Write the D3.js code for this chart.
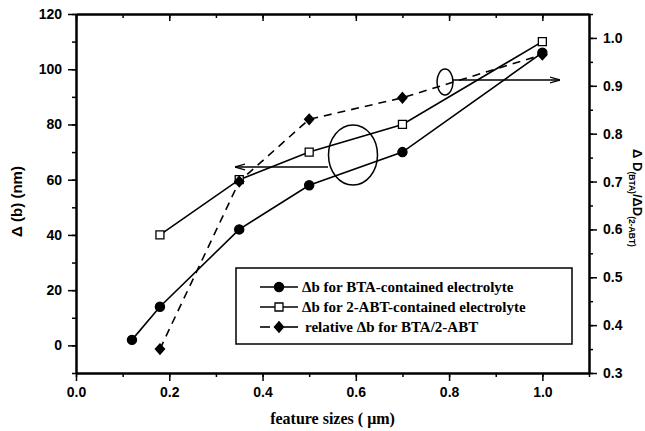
<!DOCTYPE html>
<html><head><meta charset="utf-8">
<script src="https://cdn.jsdelivr.net/npm/d3@7"></script>
<style>body{margin:0;background:#fff}</style>
</head><body>
<svg id="c" width="645" height="431"></svg>
<script>
const btaX = [0.12, 0.18, 0.35, 0.5, 0.7, 1.0];
const btaY = [2, 14, 42, 58, 70, 106];
const abtX = [0.18, 0.35, 0.5, 0.7, 1.0];
const abtY = [40, 60, 70, 80, 110];
const ratioX = [0.18, 0.35, 0.5, 0.7, 1.0];
const ratioY = [0.35, 0.70, 0.83, 0.875, 0.965];
const xTicks = [0, 0.2, 0.4, 0.6, 0.8, 1.0];
const yLTicks = [0, 20, 40, 60, 80, 100, 120];
const yRTicks = [0.3, 0.4, 0.5, 0.6, 0.7, 0.8, 0.9, 1.0];
const legendLabels = ["\u0394b for BTA-contained electrolyte", "\u0394b for 2-ABT-contained electrolyte", "relative \u0394b for BTA/2-ABT"];

const L = 76, R = 589, T = 14, B = 373;
const x = d3.scaleLinear().domain([0, 1.1]).range([L, R]);
const yL = d3.scaleLinear().domain([-10, 120]).range([B, T]);
const yR = d3.scaleLinear().domain([0.3, 1.05]).range([B, T]);
const svg = d3.select("#c");
const tickFont = "bold 14px Arial, 'Liberation Sans', sans-serif";

function styleAxis(g) {
  g.selectAll("path.domain").attr("stroke", "#000").attr("stroke-width", 2);
  g.selectAll("line").attr("stroke", "#000").attr("stroke-width", 1.5);
  g.selectAll("text").attr("fill", "#000").style("font", tickFont);
}
const xMinor = d3.range(0, 1.101, 0.1);
const yLMinor = d3.range(-10, 120.1, 10);
const yRMinor = d3.range(0.3, 1.051, 0.05);

svg.append("g").attr("transform", `translate(0,${B})`)
  .call(d3.axisBottom(x).tickValues(xMinor).tickSize(4).tickFormat("").tickSizeOuter(0)).call(styleAxis);
svg.append("g").attr("transform", `translate(0,${B})`)
  .call(d3.axisBottom(x).tickValues(xTicks).tickSize(8).tickPadding(6).tickFormat(d3.format(".1f")).tickSizeOuter(0)).call(styleAxis);
svg.append("g").attr("transform", `translate(0,${T})`)
  .call(d3.axisBottom(x).tickValues(xMinor).tickSize(4).tickFormat("").tickSizeOuter(0)).call(styleAxis);
svg.append("g").attr("transform", `translate(0,${T})`)
  .call(d3.axisBottom(x).tickValues(xTicks).tickSize(7).tickFormat("").tickSizeOuter(0)).call(styleAxis);
svg.append("g").attr("transform", `translate(${L},0)`)
  .call(d3.axisLeft(yL).tickValues(yLMinor).tickSize(4).tickFormat("").tickSizeOuter(0)).call(styleAxis);
svg.append("g").attr("transform", `translate(${L},0)`)
  .call(d3.axisLeft(yL).tickValues(yLTicks).tickSize(8).tickPadding(6).tickFormat(d3.format("d")).tickSizeOuter(0)).call(styleAxis);
svg.append("g").attr("transform", `translate(${R},0)`)
  .call(d3.axisRight(yR).tickValues(yRMinor).tickSize(4).tickFormat("").tickSizeOuter(0)).call(styleAxis);
svg.append("g").attr("transform", `translate(${R},0)`)
  .call(d3.axisRight(yR).tickValues(yRTicks).tickSize(8).tickPadding(6).tickFormat(d3.format(".1f")).tickSizeOuter(0)).call(styleAxis);

svg.append("text").attr("transform", `translate(22,${(T+B)/2 + 8}) rotate(-90)`)
  .attr("text-anchor", "middle").style("font", "bold 15px Arial, 'Liberation Sans', sans-serif")
  .text("\u0394 (b) (nm)");
svg.append("text").attr("x", (L+R)/2).attr("y", 424).attr("text-anchor", "middle")
  .style("font", "bold 16px 'Liberation Serif', 'Times New Roman', serif").text("feature sizes ( \u03bcm)");
const rt = svg.append("text").attr("transform", `translate(633,198) rotate(90)`)
  .attr("text-anchor", "middle").style("font", "bold 13px Arial, 'Liberation Sans', sans-serif");
rt.append("tspan").text("\u0394 D");
rt.append("tspan").attr("dy", 4).style("font-size", "8.5px").text("(BTA)");
rt.append("tspan").attr("dy", -4).text("/\u0394D");
rt.append("tspan").attr("dy", 4).style("font-size", "8.5px").text("(2-ABT)");

const line = (xs, ys, sc) => d3.line().x((d, i) => x(xs[i])).y(d => sc(d))(ys);
svg.append("path").attr("d", line(btaX, btaY, yL)).attr("fill", "none").attr("stroke", "#000").attr("stroke-width", 1.6);
svg.append("path").attr("d", line(abtX, abtY, yL)).attr("fill", "none").attr("stroke", "#000").attr("stroke-width", 1.6);
svg.append("path").attr("d", line(ratioX, ratioY, yR)).attr("fill", "none").attr("stroke", "#000").attr("stroke-width", 1.6).attr("stroke-dasharray", "8,6");

const diamondPath = "M0,-5.2L4.6,0L0,5.2L-4.6,0Z";
const sym = {
  circle: d3.symbol().type(d3.symbolCircle).size(66)(),
  square: d3.symbol().type(d3.symbolSquare).size(64)(),
  diamond: diamondPath
};
function markers(xs, ys, sc, s, filled) {
  svg.append("g").selectAll("path").data(ys).join("path")
    .attr("transform", (d, i) => `translate(${x(xs[i])},${sc(d)})`)
    .attr("d", sym[s]).attr("fill", filled ? "#000" : "#fff").attr("stroke", "#000").attr("stroke-width", 1.3);
}
markers(btaX, btaY, yL, "circle", true);
markers(abtX, abtY, yL, "square", false);
markers(ratioX, ratioY, yR, "diamond", true);

svg.append("defs").append("marker").attr("id", "ah").attr("viewBox", "0 0 10 10").attr("refX", 10).attr("refY", 5)
  .attr("markerWidth", 10).attr("markerHeight", 10).attr("markerUnits", "userSpaceOnUse").attr("orient", "auto")
  .append("path").attr("d", "M0,2 L10,5 L0,8").attr("fill", "none").attr("stroke", "#000").attr("stroke-width", 1.3);
svg.append("ellipse").attr("cx", 353).attr("cy", 155).attr("rx", 24.5).attr("ry", 30)
  .attr("fill", "none").attr("stroke", "#000").attr("stroke-width", 1.5);
svg.append("line").attr("x1", 328).attr("y1", 167).attr("x2", 235).attr("y2", 167)
  .attr("stroke", "#000").attr("stroke-width", 1.5).attr("marker-end", "url(#ah)");
svg.append("ellipse").attr("cx", 445).attr("cy", 82).attr("rx", 8).attr("ry", 13)
  .attr("fill", "none").attr("stroke", "#000").attr("stroke-width", 1.5);
svg.append("line").attr("x1", 453).attr("y1", 80).attr("x2", 560).attr("y2", 80)
  .attr("stroke", "#000").attr("stroke-width", 1.5).attr("marker-end", "url(#ah)");

const lg = svg.append("g");
lg.append("rect").attr("x", 236).attr("y", 268).attr("width", 336).attr("height", 76)
  .attr("fill", "#fff").attr("stroke", "#000").attr("stroke-width", 1.5);
const rows = [287, 307, 327];
const types = ["circle", "square", "diamond"];
rows.forEach((ry, i) => {
  if (i < 2) {
    lg.append("line").attr("x1", 260).attr("x2", 298).attr("y1", ry).attr("y2", ry).attr("stroke", "#000").attr("stroke-width", 1.6);
  } else {
    lg.append("line").attr("x1", 260).attr("x2", 270).attr("y1", ry).attr("y2", ry).attr("stroke", "#000").attr("stroke-width", 1.6);
    lg.append("line").attr("x1", 284).attr("x2", 298).attr("y1", ry).attr("y2", ry).attr("stroke", "#000").attr("stroke-width", 1.6);
  }
  lg.append("path").attr("transform", `translate(279,${ry})`).attr("d", sym[types[i]])
    .attr("fill", i === 1 ? "#fff" : "#000").attr("stroke", "#000").attr("stroke-width", 1.3);
  lg.append("text").attr("x", i === 2 ? 305 : 302).attr("y", ry + 5)
    .style("font", "bold 15px 'Liberation Serif', 'Times New Roman', serif").text(legendLabels[i]);
});
</script>
</body></html>
